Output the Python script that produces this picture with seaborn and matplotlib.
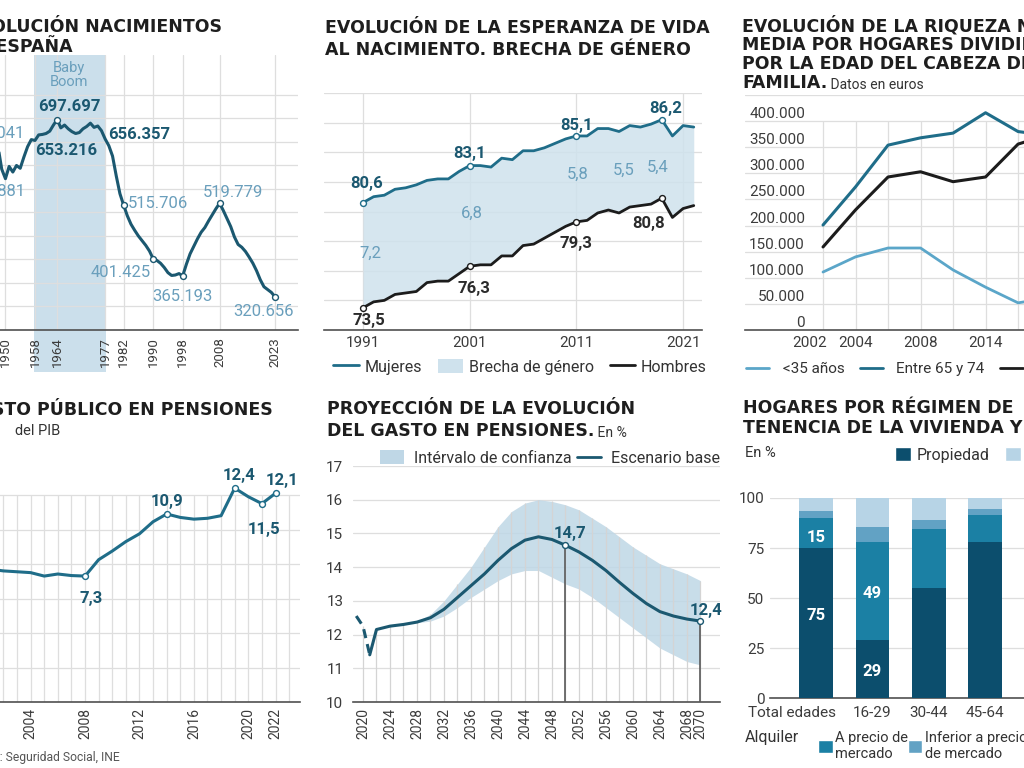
import numpy as np
import pandas as pd
import matplotlib
matplotlib.use("Agg")
import matplotlib.pyplot as plt
import matplotlib.ticker as mticker
from matplotlib.patches import Patch
from matplotlib.lines import Line2D
from matplotlib.transforms import ScaledTranslation
import seaborn as sns

# ---------------------------------------------------------------
# Data
# ---------------------------------------------------------------
# 1) Nacimientos en España
nac_years = list(range(1947, 2024))
nac_miles = [630, 640.041, 592, 571.881, 598, 586, 600, 594, 618, 640,
             655, 653.216, 665, 666, 668, 673, 686, 697.697, 680, 686,
             678, 672, 668, 670, 678, 683, 690, 681, 684, 674,
             656.357, 642, 620, 578, 540, 515.706, 493, 475, 462, 450,
             440, 430, 418, 401.425, 398, 392, 383, 372, 366, 367,
             370, 365.193, 390, 412, 428, 444, 458, 468, 482, 495,
             508, 519.779, 504, 487, 470, 448, 432, 426, 417, 405,
             392, 376, 357, 342, 336, 330, 320.656]
nac_values = [round(v * 1000) for v in nac_miles]
nac_ticks = [1950, 1958, 1964, 1977, 1982, 1990, 1998, 2008, 2023]
nac_boom = (1958, 1977)

# 2) Esperanza de vida
ev_years = list(range(1991, 2023))
ev_mujeres = [80.6, 81.0, 81.1, 81.5, 81.6, 81.8, 82.1, 82.2, 82.2, 82.7,
              83.1, 83.1, 83.0, 83.6, 83.5, 84.1, 84.1, 84.3, 84.6, 84.9,
              85.1, 85.1, 85.6, 85.6, 85.4, 85.8, 85.7, 85.9, 86.2, 85.1,
              85.8, 85.7]
ev_hombres = [73.5, 73.9, 74.0, 74.4, 74.5, 74.6, 75.2, 75.3, 75.3, 75.8,
              76.3, 76.4, 76.4, 77.0, 77.0, 77.7, 77.8, 78.2, 78.6, 79.0,
              79.3, 79.4, 79.9, 80.1, 79.9, 80.3, 80.4, 80.5, 80.9, 79.6,
              80.2, 80.4]
ev_ticks = [1991, 2001, 2011, 2021]
ev_brecha = [7.2, 6.8, 5.8, 5.5, 5.4]

# 3) Riqueza neta media por edad del cabeza de familia
riq_pos = [0, 1, 2, 3, 4, 5, 6, 7]
riq_menor35 = [111000, 140000, 157000, 157000, 115000, 82000, 52000, 62000]
riq_65_74 = [201000, 274000, 354000, 368000, 377000, 416000, 380000, 372000]
riq_mayor75 = [159000, 230000, 293000, 303000, 284000, 293000, 356000, 375000]
riq_tick_pos = [-0.4, 1, 3, 5]
riq_tick_labels = ['2002', '2004', '2008', '2014']
riq_yticks = list(range(0, 400001, 50000))

# 4) Gasto público en pensiones (% PIB)
gp_years = list(range(2000, 2023))
gp_values = [7.75, 7.7, 7.6, 7.55, 7.5, 7.3, 7.42, 7.33, 7.3, 8.25,
             8.75, 9.3, 9.75, 10.45, 10.9, 10.7, 10.6, 10.65, 10.8, 12.4,
             11.9, 11.5, 12.1]
gp_ticks = [2004, 2008, 2012, 2016, 2020, 2022]

# 5) Proyección del gasto en pensiones
pr_hist_years = [2019, 2020, 2021]
pr_hist = [12.55, 12.25, 11.4]
pr_years = [2021, 2022] + list(range(2024, 2071, 2))
pr_base = [11.4, 12.15, 12.25, 12.3, 12.37, 12.5, 12.75, 13.1, 13.45, 13.8,
           14.2, 14.55, 14.8, 14.9, 14.82, 14.65, 14.45, 14.2, 13.9, 13.55,
           13.22, 12.92, 12.68, 12.55, 12.46, 12.4]
pr_ci_years = list(range(2028, 2071, 2))
pr_ci_hi = [12.4, 12.6, 13.0, 13.5, 14.0, 14.6, 15.2, 15.65, 15.9, 16.0,
            15.95, 15.85, 15.7, 15.45, 15.2, 14.9, 14.6, 14.35, 14.1, 13.95,
            13.8, 13.6]
pr_ci_lo = [12.35, 12.4, 12.55, 12.8, 13.1, 13.35, 13.6, 13.8, 13.9, 13.9,
            13.7, 13.5, 13.35, 13.1, 12.8, 12.5, 12.2, 11.9, 11.6, 11.4,
            11.2, 11.1]
pr_ticks = list(range(2020, 2069, 4)) + [2070]

# 6) Hogares por régimen de tenencia
hog_grupos = ['Total edades', '16-29', '30-44', '45-64', '+65']
hog_propiedad = [75, 29, 55, 78, 88]
hog_mercado = [15, 49, 29.5, 13.5, 6]
hog_inferior = [3.5, 7.5, 4.5, 3, 2]
hog_cesion = [6.5, 14.5, 11, 5.5, 4]

# ---------------------------------------------------------------
# Style
# ---------------------------------------------------------------
sns.set_style('white')
plt.rcParams['font.family'] = ['Roboto', 'DejaVu Sans']

DARK = '#1b5870'
TEAL = '#1f6d89'
LIGHT = '#6a9fbc'
YOUNG = '#5ba6c9'
BLACK = '#1c1c1c'
SHADE = '#bfd7e6'
FILL = '#cfe2ed'
GRID = '#dedede'
AXIS = '#505050'
TICK = '#3c3c3c'
TXT = '#333333'
P_PROP = '#0c4e6d'
P_MERC = '#1b80a4'
P_INF = '#62a2c4'
P_CES = '#b7d4e6'

W, H = 1024, 768
fig = plt.figure(figsize=(W / 100, H / 100), dpi=100)
fig.patch.set_facecolor('white')


def box(left, top, right, bottom):
    return fig.add_axes([left / W, 1 - bottom / H, (right - left) / W, (bottom - top) / H])


def ftxt(x, y, s, **kw):
    return fig.text(x / W, 1 - y / H, s, **kw)


def miles(v):
    return f"{v:,.0f}".replace(',', '.')


def dec(v):
    return f"{v:.1f}".replace('.', ',')


def clean(ax):
    for s in ['top', 'right', 'left']:
        ax.spines[s].set_visible(False)
    ax.spines['bottom'].set_color(AXIS)
    ax.spines['bottom'].set_linewidth(1.2)
    ax.set_facecolor('none')
    ax.set_xlabel('')
    ax.set_ylabel('')


TITLE = dict(fontsize=12.5, fontweight='bold', color='#1e1e1e', va='baseline',
             family=['DejaVu Sans'])
LAB = 12

# ---------------------------------------------------------------
# Panel 1: nacimientos
# ---------------------------------------------------------------
ax1 = box(-27.8, 55, 298.3, 330)
ax1.axvspan(nac_boom[0] - 0.4, nac_boom[1] + 0.1, ymin=-0.153, ymax=1, color=SHADE,
            alpha=0.8, lw=0, clip_on=False, zorder=0.3)
sns.lineplot(x=nac_years, y=nac_values, ax=ax1, color=DARK, lw=2.2, zorder=3)
ax1.set_xlim(1941, 2029.3)
ax1.set_ylim(250000, 835000)
ax1.set_yticks(range(250000, 750001, 50000))
ax1.set_xticks(nac_ticks)
ax1.set_xticklabels(nac_ticks, rotation=90, fontsize=9.5, color=TICK)
ax1.xaxis.set_minor_locator(mticker.MultipleLocator(1))
ax1.tick_params(axis='x', which='both', length=3, color='#c8c8c8', pad=2)
ax1.tick_params(axis='y', left=False, labelleft=False)
ax1.grid(True, color=GRID, lw=0.9)
ax1.set_axisbelow(True)
clean(ax1)

nac_lab = {1948: (27, 13, 'right', False), 1950: (20, -13, 'right', False),
           1958: (31, -10, 'center', True), 1964: (12, 13, 'center', True),
           1977: (3, 4, 'left', True), 1982: (4, 2, 'left', False),
           1990: (-2, -14, 'right', False), 1998: (0, -21, 'center', False),
           2008: (13, 11, 'center', False), 2023: (-12, -15, 'center', False)}
mk = [1964, 1982, 1990, 1998, 2008, 2023]
sns.scatterplot(x=mk, y=[nac_values[nac_years.index(y)] for y in mk], ax=ax1,
                s=18, color='white', edgecolor=DARK, linewidth=1.0, zorder=4)
for yr, (dx, dy, ha, bold) in nac_lab.items():
    v = nac_values[nac_years.index(yr)]
    ax1.annotate(miles(v), (yr, v), xytext=(dx, dy), textcoords='offset pixels',
                 ha=ha, va='center', fontsize=LAB,
                 fontweight='bold' if bold else 'normal',
                 color=DARK if bold else LIGHT, annotation_clip=False, zorder=5)
ftxt(69, 75, 'Baby\nBoom', ha='center', va='center', color=LIGHT, fontsize=10.5,
     linespacing=0.95)
ftxt(222, 32, 'EVOLUCIÓN NACIMIENTOS', ha='right', **TITLE)
ftxt(73, 52, 'EN ESPAÑA', ha='right', **TITLE)

# ---------------------------------------------------------------
# Panel 2: esperanza de vida
# ---------------------------------------------------------------
ax2 = box(323.5, 93, 702.3, 330)
ax2.fill_between(ev_years, ev_hombres, ev_mujeres, color=FILL, alpha=0.85, lw=0, zorder=1)
sns.lineplot(x=ev_years, y=ev_mujeres, ax=ax2, color=TEAL, lw=2.0, zorder=3)
sns.lineplot(x=ev_years, y=ev_hombres, ax=ax2, color=BLACK, lw=2.0, zorder=3)
ax2.set_xlim(1987.3, 2022.8)
ax2.set_ylim(72, 88)
ax2.set_yticks(range(72, 89, 2))
ax2.set_xticks(ev_ticks)
ax2.set_xticklabels(ev_ticks, fontsize=11, color=TICK)
ax2.tick_params(axis='x', length=0, pad=4)
ax2.tick_params(axis='y', left=False, labelleft=False)
ax2.grid(True, color=GRID, lw=0.9)
ax2.set_axisbelow(True)
clean(ax2)

ev_mk = [1991, 2001, 2011, 2019]
for serie, col in [(ev_mujeres, TEAL), (ev_hombres, BLACK)]:
    sns.scatterplot(x=ev_mk, y=[serie[ev_years.index(y)] for y in ev_mk], ax=ax2,
                    s=18, color='white', edgecolor=col, linewidth=1.0, zorder=4)
muj_off = {1991: (4, 19), 2001: (0, 12), 2011: (0, 10), 2019: (4, 11)}
hom_off = {1991: (6, -13), 2001: (4, -22), 2011: (0, -22), 2019: (-13, -25)}
for yr, (dx, dy) in muj_off.items():
    v = ev_mujeres[ev_years.index(yr)]
    ax2.annotate(dec(v), (yr, v), xytext=(dx, dy), textcoords='offset pixels',
                 ha='center', va='center', fontsize=LAB, fontweight='bold', color=DARK)
for yr, (dx, dy) in hom_off.items():
    v = ev_hombres[ev_years.index(yr)]
    ax2.annotate(dec(80.8 if yr == 2019 else v), (yr, v), xytext=(dx, dy),
                 textcoords='offset pixels', ha='center', va='center', fontsize=LAB,
                 fontweight='bold', color='#2b2b2b')
brecha_y = [77.2, 79.9, 82.5, 82.8, 82.95]
brecha_x = [1991.7, 2001.2, 2011.1, 2015.4, 2018.6]
for x, y, b in zip(brecha_x, brecha_y, ev_brecha):
    ax2.text(x, y, dec(b), ha='center', va='center', fontsize=LAB, color=LIGHT)

ftxt(325, 33, 'EVOLUCIÓN DE LA ESPERANZA DE VIDA', ha='left', **TITLE)
ftxt(325, 55, 'AL NACIMIENTO. BRECHA DE GÉNERO', ha='left', **TITLE)
h2 = [Line2D([], [], color=TEAL, lw=2), Patch(facecolor=FILL, edgecolor='none'),
      Line2D([], [], color=BLACK, lw=2)]
ax2.legend(h2, ['Mujeres', 'Brecha de género', 'Hombres'], ncol=3, frameon=False,
           loc='center left', bbox_to_anchor=(333 / W, 1 - 367 / H),
           bbox_transform=fig.transFigure, fontsize=11.5, handlelength=1.6,
           handleheight=1.0, handletextpad=0.35, columnspacing=1.0, borderpad=0,
           borderaxespad=0, labelcolor=TXT)

# ---------------------------------------------------------------
# Panel 3: riqueza
# ---------------------------------------------------------------
ax3 = box(745, 95, 1060, 330)
sns.lineplot(x=riq_pos, y=riq_menor35, ax=ax3, color=YOUNG, lw=2.0, zorder=3)
sns.lineplot(x=riq_pos, y=riq_65_74, ax=ax3, color=TEAL, lw=2.2, zorder=3)
sns.lineplot(x=riq_pos, y=riq_mayor75, ax=ax3, color=BLACK, lw=2.2, zorder=3)
ax3.set_xlim(-2.4, 7.29)
ax3.set_ylim(0, 450000)
ax3.set_yticks(range(0, 450001, 50000))
ax3.yaxis.grid(True, color=GRID, lw=0.9)
ax3.vlines(riq_pos, 0, 400000, color=GRID, lw=0.9, zorder=0)
ax3.set_xticks(riq_tick_pos)
ax3.set_xticklabels(riq_tick_labels, fontsize=11, color=TICK)
ax3.tick_params(axis='x', length=0, pad=4)
ax3.tick_params(axis='y', left=False, labelleft=False)
ax3.set_axisbelow(True)
clean(ax3)
for v in riq_yticks:
    ax3.annotate(miles(v), (0, v), xycoords=ax3.get_yaxis_transform(), xytext=(60, 0),
                 textcoords='offset pixels', ha='right', va='bottom', fontsize=11,
                 color=TICK)
for i, line in enumerate(['EVOLUCIÓN DE LA RIQUEZA NETA', 'MEDIA POR HOGARES DIVIDIDOS',
                          'POR LA EDAD DEL CABEZA DE']):
    ftxt(742, 31 + 19 * i, line, ha='left', **TITLE)
t3 = ftxt(742, 88, 'FAMILIA.', ha='left', **TITLE)
ax3.annotate(' Datos en euros', xy=(1, 0), xycoords=t3, ha='left', va='bottom',
             fontsize=10, color=TXT, annotation_clip=False)
h3 = [Line2D([], [], color=YOUNG, lw=2), Line2D([], [], color=TEAL, lw=2),
      Line2D([], [], color=BLACK, lw=2)]
ax3.legend(h3, ['<35 años', 'Entre 65 y 74', '75 y más'], ncol=3, frameon=False,
           loc='center left', bbox_to_anchor=(746 / W, 1 - 369 / H),
           bbox_transform=fig.transFigure, fontsize=11, handlelength=1.5,
           handletextpad=0.9, columnspacing=1.0, borderpad=0, borderaxespad=0,
           labelcolor=TXT)

# ---------------------------------------------------------------
# Panel 4: gasto público en pensiones
# ---------------------------------------------------------------
ax4 = box(-23.8, 460.5, 300, 702)
sns.lineplot(x=gp_years, y=gp_values, ax=ax4, color=TEAL, lw=2.2, zorder=3)
ax4.set_xlim(2000, 2023.8)
ax4.set_ylim(0, 14)
ax4.set_yticks(range(0, 13, 2))
ax4.yaxis.grid(True, color=GRID, lw=0.9)
ax4.vlines(gp_years + [2023], 0, 12, color=GRID, lw=0.9, zorder=0)
ax4.set_xticks(gp_ticks)
ax4.set_xticklabels(gp_ticks, rotation=90, fontsize=10, color=TICK)
ax4.tick_params(axis='x', length=0, pad=4)
ax4.tick_params(axis='y', left=False, labelleft=False)
ax4.set_axisbelow(True)
clean(ax4)
gp_off = {2008: (6, -22), 2014: (0, 12), 2019: (4, 13), 2021: (2, -26), 2022: (7, 13)}
sns.scatterplot(x=list(gp_off), y=[gp_values[gp_years.index(y)] for y in gp_off], ax=ax4,
                s=18, color='white', edgecolor=TEAL, linewidth=1.0, zorder=4)
for yr, (dx, dy) in gp_off.items():
    v = gp_values[gp_years.index(yr)]
    ax4.annotate(dec(v), (yr, v), xytext=(dx, dy), textcoords='offset pixels',
                 ha='center', va='center', fontsize=LAB, fontweight='bold', color=DARK)
ftxt(273, 415, 'GASTO PÚBLICO EN PENSIONES', ha='right', **TITLE)
ftxt(-3, 435, 'En %', ha='right', va='baseline', fontsize=10.5, color=TXT)
ftxt(15, 435, 'del PIB', ha='left', va='baseline', fontsize=10.5, color=TXT)
ftxt(120, 761, 'Fuente: Seguridad Social, INE', ha='right', va='baseline',
     fontsize=8.7, color='#555555')

# ---------------------------------------------------------------
# Panel 5: proyección
# ---------------------------------------------------------------
ax5 = box(353, 466, 720, 702)
ax5.fill_between(pr_ci_years, pr_ci_lo, pr_ci_hi, color=SHADE, alpha=0.85, lw=0, zorder=1)
sns.lineplot(x=pr_hist_years, y=pr_hist, ax=ax5, color=DARK, lw=2.2, zorder=3,
             linestyle=(0, (3, 2)))
sns.lineplot(x=pr_years, y=pr_base, ax=ax5, color=DARK, lw=2.2, zorder=3)
ax5.set_xlim(2018.52, 2072.9)
ax5.set_ylim(10, 17)
ax5.set_yticks(range(10, 18))
ax5.set_yticklabels(range(10, 18), fontsize=11, color=TICK)
ax5.yaxis.grid(True, color=GRID, lw=0.9)
grid_years = np.arange(2020, 2071, 2)
env = np.maximum(np.interp(grid_years, pr_hist_years + pr_years[1:], pr_hist + pr_base[1:]),
                 np.interp(grid_years, pr_ci_years, pr_ci_hi, left=0, right=0))
ax5.vlines(grid_years, 10, env, color='#d4d4d4', lw=0.9, zorder=2)
ax5.set_xticks(pr_ticks)
ax5.set_xticklabels(pr_ticks, rotation=90, fontsize=10, color=TICK)
ax5.tick_params(axis='x', length=0, pad=4)
ax5.tick_params(axis='y', length=0, pad=7)
ax5.set_axisbelow(True)
clean(ax5)
for yr, (dx, dy) in {2050: (5, 12), 2070: (6, 11)}.items():
    v = pr_base[pr_years.index(yr)]
    ax5.vlines(yr, 10, v, color='#5a5a5a', lw=1.2, zorder=3)
    ax5.scatter([yr], [v], s=18, color='white', edgecolor=DARK, linewidth=1.0, zorder=4)
    ax5.annotate(dec(14.7 if yr == 2050 else v), (yr, v), xytext=(dx, dy),
                 textcoords='offset pixels', ha='center', va='center', fontsize=LAB,
                 fontweight='bold', color=DARK, annotation_clip=False)
ftxt(327, 414, 'PROYECCIÓN DE LA EVOLUCIÓN', ha='left', **TITLE)
t5 = ftxt(327, 436, 'DEL GASTO EN PENSIONES.', ha='left', **TITLE)
ax5.annotate(' En %', xy=(1, 0), xycoords=t5, ha='left', va='bottom', fontsize=10,
             color=TXT, annotation_clip=False)
h5 = [Patch(facecolor=SHADE, edgecolor='none'), Line2D([], [], color=DARK, lw=2)]
ax5.legend(h5, ['Intérvalo de confianza', 'Escenario base'], ncol=2, frameon=False,
           loc='center left', bbox_to_anchor=(380 / W, 1 - 458 / H),
           bbox_transform=fig.transFigure, fontsize=11.5, handlelength=1.5,
           handleheight=1.0, handletextpad=0.65, columnspacing=0.3, borderpad=0,
           borderaxespad=0, labelcolor=TXT)

# ---------------------------------------------------------------
# Panel 6: hogares
# ---------------------------------------------------------------
ax6 = box(770, 498, 1097.7, 698)
hog = pd.DataFrame({'Propiedad': hog_propiedad, 'Mercado': hog_mercado,
                    'Inferior': hog_inferior, 'Cesión': hog_cesion}, index=hog_grupos)
x6 = np.arange(len(hog_grupos))
bottom = np.zeros(len(hog_grupos))
for col, c in zip(hog.columns, [P_PROP, P_MERC, P_INF, P_CES]):
    ax6.bar(x6, hog[col].values, bottom=bottom, width=0.6, color=c, lw=0, zorder=3)
    bottom += hog[col].values
ax6.set_xlim(-0.82, 5.0)
ax6.set_ylim(0, 100)
ax6.set_yticks([0, 25, 50, 75, 100])
ax6.set_yticklabels([0, 25, 50, 75, 100], fontsize=11, color=TICK)
ax6.yaxis.grid(True, color=GRID, lw=0.9)
ax6.set_xticks(x6)
ax6.set_xticklabels(hog_grupos, fontsize=11, color=TICK)
ax6.tick_params(axis='x', length=0, pad=6)
ax6.tick_params(axis='y', length=0, pad=4)
ax6.set_axisbelow(True)
clean(ax6)
first = ax6.get_xticklabels()[0]
first.set_transform(first.get_transform() + ScaledTranslation(-0.24, 0, fig.dpi_scale_trans))
for i, col, yv in [(0, 'Mercado', 80.5), (0, 'Propiedad', 41.5), (1, 'Mercado', 52.5),
                   (1, 'Propiedad', 13)]:
    ax6.text(i, yv, f"{hog[col].iloc[i]:.0f}", ha='center', va='center', fontsize=LAB,
             fontweight='bold', color='white', zorder=4)
ftxt(743, 413, 'HOGARES POR RÉGIMEN DE', ha='left', **TITLE)
ftxt(743, 433, 'TENENCIA DE LA VIVIENDA Y EDAD', ha='left', **TITLE)
ftxt(745, 457, 'En %', ha='left', va='baseline', fontsize=10.5, color=TXT)
leg6 = ax6.legend([Patch(facecolor=P_PROP), Patch(facecolor=P_CES)],
                  ['Propiedad', 'Cesión gratuita'], ncol=2, frameon=False,
                  loc='center left', bbox_to_anchor=(895 / W, 1 - 455 / H),
                  bbox_transform=fig.transFigure, fontsize=11.5, handlelength=1.0,
                  handleheight=1.0, handletextpad=0.35, columnspacing=1.0,
                  borderpad=0, borderaxespad=0, labelcolor=TXT)
ax6.add_artist(leg6)
ftxt(745, 742, 'Alquiler', ha='left', va='baseline', fontsize=11.5, color=TXT)
ax6.legend([Patch(facecolor=P_MERC), Patch(facecolor=P_INF)],
           ['A precio de\nmercado', 'Inferior a precio\nde mercado'], ncol=2,
           frameon=False, loc='upper left', bbox_to_anchor=(818 / W, 1 - 731 / H),
           bbox_transform=fig.transFigure, fontsize=10.5, handlelength=1.0,
           handleheight=1.0, handletextpad=0.15, columnspacing=0.0, borderpad=0,
           borderaxespad=0, labelcolor=TXT, labelspacing=0)

fig.savefig('out.png', dpi=100)
